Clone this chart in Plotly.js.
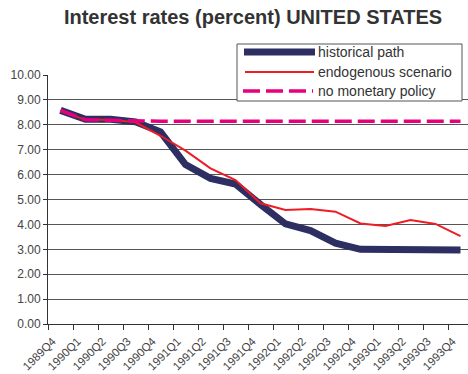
<!DOCTYPE html>
<html><head><meta charset="utf-8">
<script src="https://cdn.plot.ly/plotly-3.0.1.min.js"></script>
<style>html,body{margin:0;padding:0;background:#fff}#c{width:468px;height:374px}</style>
</head><body><div id="c"></div>
<script>
const quarters = ["1989Q4","1990Q1","1990Q2","1990Q3","1990Q4","1991Q1","1991Q2","1991Q3","1991Q4","1992Q1","1992Q2","1992Q3","1992Q4","1993Q1","1993Q2","1993Q3","1993Q4"];
const historicalPath = [8.58,8.22,8.22,8.12,7.72,6.40,5.85,5.62,4.80,4.02,3.75,3.25,3.00,3.00,2.97,3.04,2.97];
const endogenousScenario = [8.55,8.20,8.20,8.10,7.56,6.96,6.25,5.78,4.85,4.58,4.62,4.51,4.04,3.94,4.18,4.02,3.53];
const noMonetaryPolicy = [8.58,8.20,8.18,8.15,8.14,8.14,8.14,8.14,8.14,8.14,8.14,8.14,8.14,8.14,8.14,8.14,8.14];
const yTicks = [0,1,2,3,4,5,6,7,8,9,10];
const seriesNames = ["historical path","endogenous scenario","no monetary policy"];

const NAVY = "#2d2f63", RED = "#ee1c25", MAG = "#e6007e";
const FONT = "Liberation Sans, Arial, sans-serif";

const traces = [
  {x: quarters, y: historicalPath, type: "scatter", mode: "lines", name: seriesNames[0],
   line: {color: NAVY, width: 7}},
  {x: quarters, y: endogenousScenario, type: "scatter", mode: "lines", name: seriesNames[1],
   line: {color: RED, width: 2}},
  {x: quarters, y: noMonetaryPolicy, type: "scatter", mode: "lines", name: seriesNames[2],
   line: {color: MAG, width: 3.5, dash: "17px,6px"}}
];

// manual legend (box + samples + labels), positioned in paper coordinates
const L = 48, W = 420, B = 324, H = 249;
const px = v => (v - L) / W, py = v => (B - v) / H;
const rows = [52, 72, 91];
const shapes = [
  {type: "rect", xref: "paper", yref: "paper", x0: px(237), x1: px(462), y0: py(101), y1: py(44),
   line: {color: "#555", width: 1}, fillcolor: "#fff", layer: "above"},
  {type: "line", xref: "paper", yref: "paper", x0: px(244), x1: px(315), y0: py(rows[0]), y1: py(rows[0]),
   line: {color: NAVY, width: 7}, layer: "above"},
  {type: "line", xref: "paper", yref: "paper", x0: px(245), x1: px(314), y0: py(rows[1]), y1: py(rows[1]),
   line: {color: RED, width: 2}, layer: "above"},
  {type: "line", xref: "paper", yref: "paper", x0: px(243), x1: px(313), y0: py(rows[2]), y1: py(rows[2]),
   line: {color: MAG, width: 3.5, dash: "17px,6px"}, layer: "above"}
];
const annotations = seriesNames.map((t, i) => ({
  text: t, xref: "paper", yref: "paper", x: px(316), y: py(rows[i]), xanchor: "left", yanchor: "middle",
  showarrow: false, font: {family: FONT, size: 14, color: "#333"}
}));

const layout = {
  width: 468, height: 374,
  margin: {l: 48, r: 0, t: 75, b: 50},
  paper_bgcolor: "#fff", plot_bgcolor: "#fff",
  showlegend: false,
  font: {family: FONT, color: "#333"},
  title: {text: "<b>Interest rates (percent) UNITED STATES</b>", font: {family: FONT, size: 20, color: "#333"},
          x: 253/468, xanchor: "center", xref: "container", y: 1 - 17/374, yanchor: "middle", yref: "container"},
  xaxis: {type: "category", range: [-0.5, 16.3], tickson: "boundaries", ticks: "outside", ticklen: 5,
          tickcolor: "#333", showline: true, linecolor: "#333", linewidth: 1, showgrid: false,
          tickangle: -45, tickfont: {family: FONT, size: 11.5, color: "#444"}, zeroline: false, fixedrange: true,
          ticklabelshift: -8, ticklabelstandoff: 5},
  yaxis: {range: [0, 10], tickvals: yTicks, tickformat: ".2f", ticks: "outside", ticklen: 4, tickcolor: "#333",
          showline: true, linecolor: "#333", linewidth: 1, showgrid: true, gridcolor: "#555", gridwidth: 1,
          zeroline: false, tickfont: {family: FONT, size: 12, color: "#444"}, fixedrange: true},
  shapes: shapes,
  annotations: annotations
};
Plotly.newPlot("c", traces, layout, {displayModeBar: false, staticPlot: true});
</script></body></html>
